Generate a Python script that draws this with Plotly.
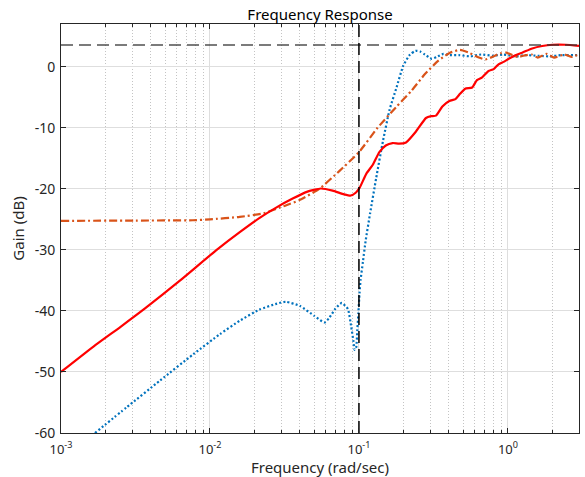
import numpy as np
import plotly.graph_objects as go

# ---- data (x given as log10 of frequency in rad/sec) ----
red_logw = [-3.0, -2.78, -2.6, -2.436, -2.2, -1.955, -1.80, -1.669, -1.55, -1.445,
            -1.35, -1.255, -1.177, -1.10, -1.055, -1.02, -0.997, -0.95, -0.908, -0.863,
            -0.82, -0.774, -0.73, -0.684, -0.617, -0.55, -0.515, -0.483, -0.44, -0.393,
            -0.352, -0.32, -0.287, -0.240, -0.208, -0.175, -0.130, -0.096, -0.063, -0.029,
            0.005, 0.05, 0.096, 0.163, 0.23, 0.30, 0.387, 0.4771]
red_db = [-50.0, -45.8, -42.6, -39.6, -35.0, -30.0, -27.1, -24.8, -23.0, -21.6,
          -20.5, -19.95, -20.3, -20.9, -21.1, -20.6, -19.9, -17.5, -16.1, -14.0,
          -12.9, -12.5, -12.6, -12.4, -10.6, -8.4, -8.1, -8.0, -6.5, -5.6,
          -5.3, -4.4, -3.6, -3.4, -2.2, -1.8, -0.7, -0.4, 0.4, 0.8,
          1.3, 1.9, 2.3, 3.0, 3.4, 3.6, 3.6, 3.4]

orange_logw = [-3.0, -2.5, -2.117, -2.0, -1.8, -1.64, -1.5, -1.395, -1.266, -1.132,
               -1.0, -0.875, -0.75, -0.646, -0.557, -0.467, -0.389, -0.322, -0.262, -0.195,
               -0.15, -0.105, -0.05, -0.01, 0.03, 0.07, 0.12, 0.16, 0.2, 0.26,
               0.31, 0.38, 0.43, 0.4771]
orange_db = [-25.25, -25.2, -25.15, -25.0, -24.6, -24.0, -22.8, -21.8, -20.0, -17.1,
             -14.0, -10.0, -6.6, -3.9, -1.2, 1.0, 2.3, 2.75, 2.3, 1.5,
             1.2, 1.6, 2.2, 2.3, 1.9, 1.6, 1.9, 2.0, 1.5, 2.1,
             1.5, 2.0, 1.6, 2.1]

blue_logw = [-2.772, -2.56, -2.335, -2.112, -1.933, -1.80, -1.669, -1.55, -1.49, -1.395,
             -1.30, -1.232, -1.201, -1.157, -1.115, -1.074, -1.052, -1.038, -1.029, -1.018,
             -1.011, -1.004, -0.996, -0.989, -0.973, -0.955, -0.925, -0.884, -0.839, -0.794,
             -0.749, -0.702, -0.657, -0.62, -0.59, -0.557, -0.512, -0.478, -0.433, -0.389,
             -0.33, -0.25, -0.18, -0.10, -0.03, 0.05, 0.12, 0.2, 0.28, 0.36, 0.4771]
blue_db = [-60.0, -55.8, -51.4, -47.1, -43.8, -41.6, -39.8, -38.8, -38.5, -39.2,
           -40.8, -41.9, -41.2, -39.6, -38.7, -39.7, -42.6, -44.8, -46.4, -45.9,
           -43.1, -40.4, -37.1, -34.9, -31.9, -28.5, -24.0, -18.2, -12.2, -7.0,
           -3.5, 0.2, 2.0, 2.6, 2.5, 2.0, 1.3, 1.6, 2.1, 1.9,
           1.9, 1.7, 2.0, 1.8, 2.0, 1.7, 1.9, 1.8, 1.7, 1.9, 1.9]

peak_db = 3.55          # horizontal dashed reference level
cutoff_w = 0.1          # vertical dashed reference frequency
x_range_w = [1e-3, 3.0]
y_range_db = [-60, 7]
y_ticks = [-60, -50, -40, -30, -20, -10, 0]
x_ticks = [1e-3, 1e-2, 1e-1, 1e0]
x_tick_labels = ["10<sup>-3</sup>", "10<sup>-2</sup>", "10<sup>-1</sup>", "10<sup>0</sup>"]

FONT = "Noto Sans"
AX = "#262626"

minor_vals = [m * d for d in (1e-3, 1e-2, 1e-1, 1e0) for m in range(2, 10) if m * d <= x_range_w[1]]

fig = go.Figure()
fig.add_trace(go.Scatter(x=10 ** np.array(blue_logw), y=blue_db, mode="lines",
                         line=dict(color="#0072BD", width=2.2, dash="2px,2.2px", shape="spline", smoothing=0.5),
                         showlegend=False))
fig.add_trace(go.Scatter(x=10 ** np.array(orange_logw), y=orange_db, mode="lines",
                         line=dict(color="#D95319", width=2.2, dash="8px,3px,2px,3px", shape="spline", smoothing=0.5),
                         showlegend=False))
fig.add_trace(go.Scatter(x=10 ** np.array(red_logw), y=red_db, mode="lines",
                         line=dict(color="#FF0000", width=2.2, shape="spline", smoothing=0.5),
                         showlegend=False))
fig.add_trace(go.Scatter(x=x_range_w, y=[peak_db, peak_db], mode="lines",
                         line=dict(color="#333333", width=1.5, dash="12px,6px"),
                         opacity=0.85, showlegend=False))
fig.add_trace(go.Scatter(x=[cutoff_w, cutoff_w], y=y_range_db, mode="lines",
                         line=dict(color="#000000", width=1.5, dash="12px,6px"),
                         showlegend=False))

fig.update_layout(
    width=585, height=477,
    margin=dict(l=61, r=6, t=24, b=44, autoexpand=False),
    paper_bgcolor="white", plot_bgcolor="white",
    font=dict(family=FONT, size=14, color=AX),
    title=dict(text="Frequency Response", x=320 / 585, xanchor="center",
               xref="container", y=1 - 15 / 477, yref="container", yanchor="middle",
               font=dict(family=FONT, size=15, color="#000000")),
)
fig.update_xaxes(
    type="log", range=[np.log10(x_range_w[0]), np.log10(x_range_w[1])],
    automargin=False,
    tickvals=x_ticks, ticktext=x_tick_labels,
    ticks="inside", ticklen=5, tickcolor=AX, tickwidth=1, ticklabelstandoff=4,
    showline=True, linecolor=AX, linewidth=1, mirror="ticks",
    showgrid=True, gridcolor="#dedede", gridwidth=1,
    zeroline=False,
    minor=dict(tickvals=minor_vals, ticks="inside", ticklen=3, tickcolor=AX,
               showgrid=True, gridcolor="#c4c4c4", griddash="1px,2px", gridwidth=1),
    tickfont=dict(size=13, color=AX),
    title=dict(text="Frequency (rad/sec)", standoff=4, font=dict(size=15, color=AX)),
)
fig.update_yaxes(
    range=y_range_db, automargin=False,
    tickvals=y_ticks, ticktext=[str(v) for v in y_ticks],
    ticks="inside", ticklen=5, tickcolor=AX, tickwidth=1, ticklabelstandoff=2,
    showline=True, linecolor=AX, linewidth=1, mirror="ticks",
    showgrid=True, gridcolor="#dedede", gridwidth=1,
    zeroline=False,
    tickfont=dict(size=14, color=AX),
    title=dict(text="Gain (dB)", standoff=6, font=dict(size=15, color=AX)),
)

fig.write_html("out.html", config={"displayModeBar": False},
               post_script="document.body.style.margin='0';document.body.style.overflow='hidden';")
